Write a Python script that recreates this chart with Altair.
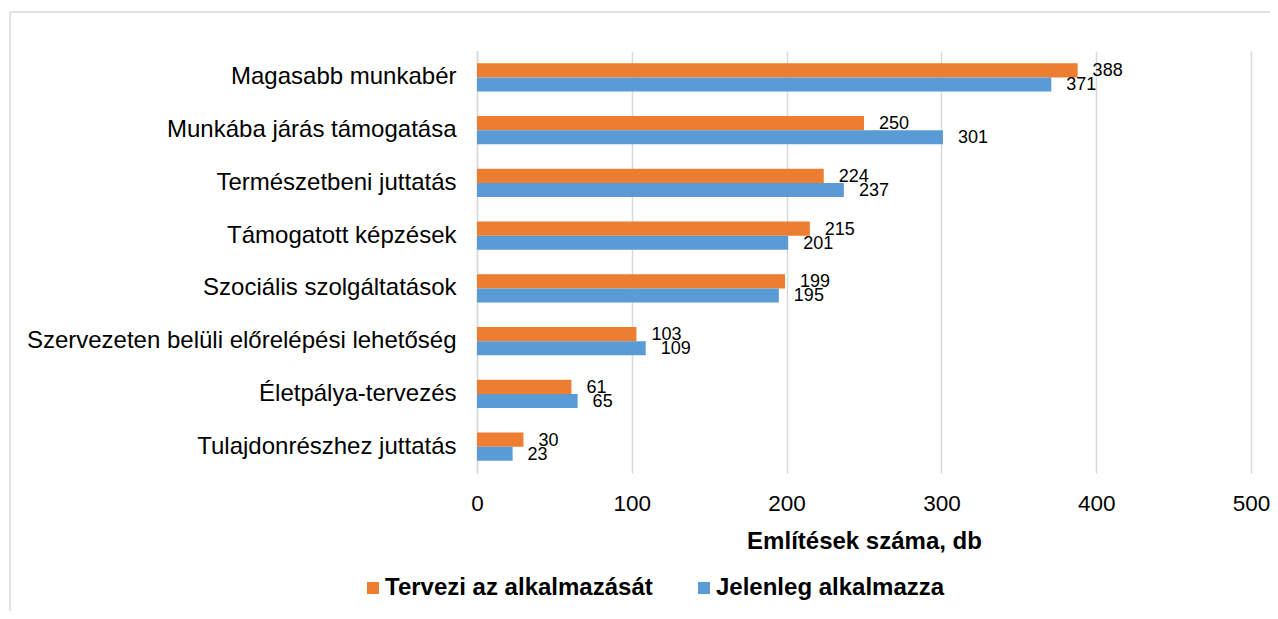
import altair as alt
import pandas as pd

categories = [
    "Magasabb munkabér",
    "Munkába járás támogatása",
    "Természetbeni juttatás",
    "Támogatott képzések",
    "Szociális szolgáltatások",
    "Szervezeten belüli előrelépési lehetőség",
    "Életpálya-tervezés",
    "Tulajdonrészhez juttatás",
]
series_names = ["Tervezi az alkalmazását", "Jelenleg alkalmazza"]
tervezi = [388, 250, 224, 215, 199, 103, 61, 30]
jelenleg = [371, 301, 237, 201, 195, 109, 65, 23]
x_ticks = [0, 100, 200, 300, 400, 500]
colors = ["#ED7D31", "#5B9BD5"]

rows = []
for c, t, j in zip(categories, tervezi, jelenleg):
    rows.append({"kat": c, "sor": series_names[0], "db": t})
    rows.append({"kat": c, "sor": series_names[1], "db": j})
df = pd.DataFrame(rows)

FONT = "Liberation Sans"

y_enc = alt.Y(
    "kat:N",
    sort=categories,
    scale=alt.Scale(paddingInner=0.469, paddingOuter=0.2345),
    axis=alt.Axis(
        title=None,
        domain=True,
        domainColor="#d9d9d9",
        domainWidth=1.5,
        ticks=False,
        grid=False,
        labelFont=FONT,
        labelFontSize=24,
        labelColor="#000000",
        labelPadding=21,
        labelLimit=600,
    ),
)
yoff = alt.YOffset("sor:N", sort=series_names, scale=alt.Scale(domain=series_names))
x_scale = alt.Scale(domain=[0, 500], nice=False)

bars = alt.Chart(df).mark_bar().encode(
    x=alt.X(
        "db:Q",
        scale=x_scale,
        axis=alt.Axis(
            values=x_ticks,
            title="Említések száma, db",
            titleFont=FONT,
            titleFontSize=24,
            titleFontWeight="bold",
            titleColor="#000000",
            titlePadding=15,
            domain=False,
            ticks=False,
            grid=True,
            gridColor="#d9d9d9",
            gridWidth=1.5,
            labelFont=FONT,
            labelFontSize=22.5,
            labelColor="#000000",
            labelPadding=19,
            labelFlush=False,
        ),
    ),
    y=y_enc,
    yOffset=yoff,
    color=alt.Color(
        "sor:N",
        sort=series_names,
        scale=alt.Scale(domain=series_names, range=colors),
        legend=alt.Legend(
            title=None,
            orient="none",
            direction="horizontal",
            legendX=-116,
            legendY=525,
            symbolType="square",
            symbolSize=144,
            symbolStrokeWidth=0,
            symbolOpacity=1,
            labelFont=FONT,
            labelFontSize=24,
            labelFontWeight="bold",
            labelColor="#000000",
            labelOffset=0,
            columnPadding=39,
            labelLimit=600,
        ),
    ),
)

labels = alt.Chart(df).mark_text(
    align="left", baseline="middle", dx=15, dy=1, font=FONT, fontSize=18, color="#000000"
).encode(
    x=alt.X("db:Q", scale=x_scale),
    y=alt.Y("kat:N", sort=categories),
    yOffset=yoff,
    text=alt.Text("db:Q"),
)

border_top = alt.Chart(alt.Data(values=[{}])).mark_rule(color="#d9d9d9", strokeWidth=1.5).encode(
    x=alt.value(-467), x2=alt.value(830), y=alt.value(-39)
)
border_left = alt.Chart(alt.Data(values=[{}])).mark_rule(color="#d9d9d9", strokeWidth=1.5).encode(
    x=alt.value(-467), y=alt.value(-39), y2=alt.value(620)
)

chart = alt.layer(border_top, border_left, bars, labels).properties(
    width=774,
    height=422,
    autosize=alt.AutoSizeParams(type="none"),
    padding={"left": 469, "top": 43, "right": 19, "bottom": 138},
    background="white",
).configure_view(stroke=None)

chart.save("out.html", embed_options={"renderer": "svg", "actions": False})
